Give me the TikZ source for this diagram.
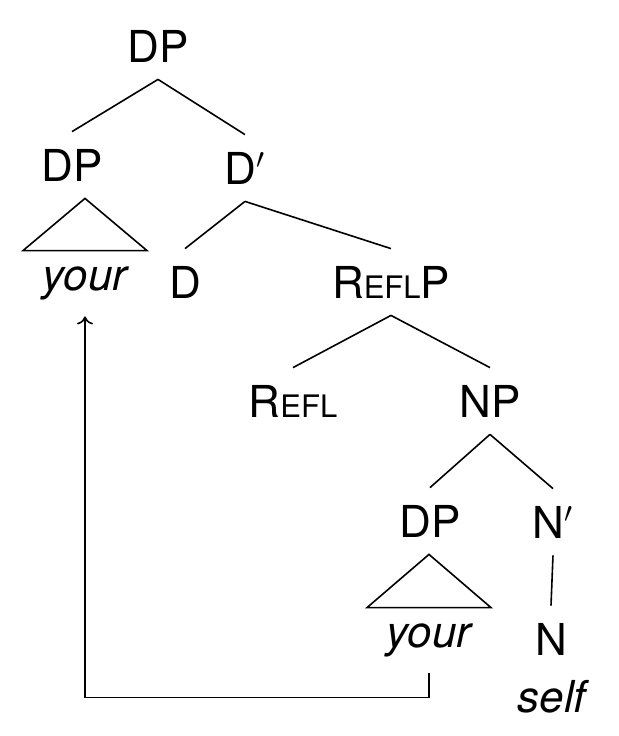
\documentclass[tikz,border=0pt]{standalone}
\usepackage{fontspec}
\setmainfont{TeX Gyre Heros}
\usepackage{tikz}
\usetikzlibrary{arrows.meta}
\newcommand{\smallcap}[1]{{\fontsize{15.5}{18}\selectfont #1}}

\begin{document}
\begin{tikzpicture}[
    x=0.5pt, y=-0.5pt,
    cat/.style={anchor=base, inner sep=8.5pt, text height=16pt, text depth=0pt, font=\fontsize{22}{26}\selectfont},
    word/.style={anchor=base, inner ysep=3.5pt, inner xsep=0pt, text height=16pt, text depth=9.5pt, font=\fontsize{22}{26}\selectfont\itshape},
    branch/.style={line width=0.8pt},
    move/.style={-{To[length=4pt, width=8pt]}, line width=0.8pt},
]
    \useasboundingbox (0,0) rectangle (618,736);

    \node[cat] (dp) at (158,62) {DP};
    \node[cat] (spec) at (72,181) {DP};
    \node[cat] (dbar) at (245,184) {D$'$};
    \node[word] (your) at (85,290) {your};
    \node[cat] (d) at (185,298) {D};
    \node[cat] (reflp) at (391,298) {R\smallcap{EFL}P};
    \node[cat] (refl) at (293,417) {R\smallcap{EFL}};
    \node[cat] (np) at (490,417) {NP};
    \node[cat] (low) at (430,537) {DP};
    \node[cat] (nbar) at (553,538) {N$'$};
    \node[word] (yourlow) at (429,647) {your};
    \node[cat] (n) at (551,655) {N};
    \node[word] (self) at (552,712) {self};

    \draw[branch] (dp.south) -- (spec.north);
    \draw[branch] (dp.south) -- (dbar.north);
    \draw[branch] (dbar.south) -- (d.north);
    \draw[branch] (dbar.south) -- (reflp.north);
    \draw[branch] (reflp.south) -- (refl.north);
    \draw[branch] (reflp.south) -- (np.north);
    \draw[branch] (np.south) -- (low.north);
    \draw[branch] (np.south) -- (nbar.north);
    \draw[branch] (nbar.south) -- (n.north);

    % triangles over the words
    \draw[branch] (spec.south -| your.north) -- ([xshift=-31pt]your.north) -- ([xshift=31pt]your.north) -- cycle;
    \draw[branch] (low.south -| yourlow.north) -- ([xshift=-31pt]yourlow.north) -- ([xshift=31pt]yourlow.north) -- cycle;

    \draw[move] (yourlow.south) -- ++(0,24) -| (your.south);
\end{tikzpicture}
\end{document}
